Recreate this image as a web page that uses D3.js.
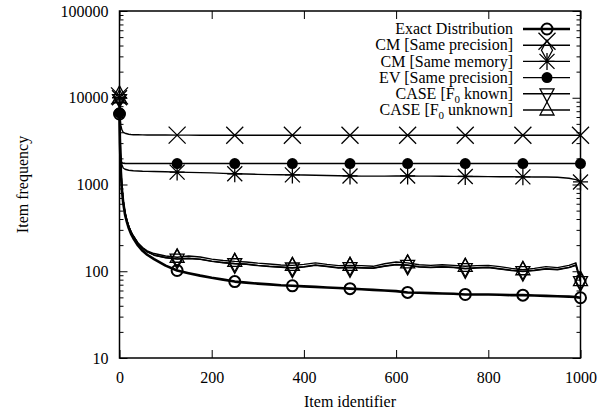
<!DOCTYPE html>
<html><head><meta charset="utf-8">
<script src="https://cdn.jsdelivr.net/npm/d3@7"></script>
<style>
body{margin:0;background:#fff}
svg{display:block}
text{font-family:"Liberation Serif","Times New Roman",serif;font-size:16px;fill:#000}
</style>
</head><body>
<svg id="chart" width="613" height="416"></svg>
<script>
// ---- data ----
const itemIds = [0,1,2,3,5,8,12,16,20,25,30,40,50,60,75,100,
  125,150,175,200,225,250,275,300,325,350,375,400,425,450,475,500,525,550,575,600,
  625,650,675,700,725,750,775,800,825,850,875,900,925,950,975,990,1000];
const exactFreq = [6500,3000,2000,1400,900,620,450,370,315,270,240,198,172,155,138,116,
  102,95,89,84,80,76,74,72,70.5,69,68,67,66,65,64,63,62,61,60,59,
  57,56.5,56,55.5,55,54,54,54,53.5,53,53,52.5,52,51.5,51,50.5,49.5];
const cmPrecisionFreq = [10500,3200,2100,1500,950,650,470,385,330,285,255,211,185,168,154,144,
  139,141,138,131,126,123,121,117,114,112,110,113,118,114,110,111,110,109,115,120,
  118,113,111,113,111,108,110,111,107,103,100,103,107,105,111,118,77];
const cmMemoryFreq = [10000,5000,3000,2200,1700,1550,1500,1480,1460,1450,1440,1430,1420,1415,1410,1400,
  1390,1380,1370,1360,1345,1330,1320,1310,1300,1295,1290,1285,1280,1270,1260,1255,1250,1248,1250,1255,
  1255,1250,1248,1245,1240,1238,1235,1233,1230,1228,1225,1222,1220,1210,1180,1140,1070];
const evPrecisionFreq = [6700,2600,2000,1850,1780,1760,1750,1748,1746,1745,1745,1745,1745,1745,1745,1745,
  1745,1745,1745,1745,1745,1745,1745,1745,1745,1745,1745,1745,1745,1745,1745,1745,1745,1745,1745,1745,
  1745,1745,1745,1745,1745,1745,1745,1745,1745,1745,1745,1745,1745,1745,1745,1745,1745];
const caseKnownFreq = [9500,3200,2100,1500,950,650,470,385,330,285,255,210,184,167,153,143,
  138,140,137,130,125,122,120,116,113,111,109,112,117,113,109,110,109,108,114,119,
  117,112,110,112,110,107,109,110,106,102,99,102,106,104,110,117,76];
const caseUnknownFreq = [10000,3200,2100,1500,950,650,470,385,330,285,255,212,188,172,160,150,
  145,150,146,138,133,130,128,124,121,118,117,120,125,120,116,117,116,114,122,128,
  125,119,117,119,117,114,116,117,113,108,104,108,113,110,117,125,78];
const cmWideFreq = [10500,7000,5500,4800,4300,4000,3900,3850,3800,3770,3750,3740,3730,3720,3720,3720,
  3710,3705,3700,3700,3700,3700,3700,3700,3700,3700,3700,3700,3700,3700,3700,3700,3700,3700,3700,3700,
  3700,3700,3700,3700,3700,3700,3700,3700,3700,3700,3700,3700,3700,3700,3700,3700,3700];
const xTicks = [0,200,400,600,800,1000];
const yTicks = [10,100,1000,10000,100000];
const legendLabels = ["Exact Distribution","CM [Same precision]","CM [Same memory]",
  "EV [Same precision]","CASE [F0 known]","CASE [F0 unknown]"];

// ---- series table ----
const series = [
  {values: exactFreq,       marker: "circle",  width: 2.6, key: 0, dy: 0},
  {values: cmWideFreq,      marker: "x",       width: 1.4, key: 1, dy: -4},
  {values: cmPrecisionFreq, marker: "diamond", width: 1.4, key: 1, dy: 5},
  {values: cmMemoryFreq,    marker: "star",    width: 1.4, key: 2, dy: 0},
  {values: evPrecisionFreq, marker: "dot",     width: 1.6, key: 3, dy: 0},
  {values: caseKnownFreq,   marker: "itri",    width: 1.4, key: 4, dy: 0},
  {values: caseUnknownFreq, marker: "tri",     width: 1.4, key: 5, dy: 0}
];

const m = {l: 119.5, r: 580.5, t: 11, b: 358};
const svg = d3.select("#chart");
const x = d3.scaleLinear().domain([0, 1000]).range([m.l, m.r]);
const y = d3.scaleLog().domain([10, 100000]).range([m.b, m.t]);

// minor log ticks
const minorY = [];
for (let d = 10; d < 100000; d *= 10) for (let k = 2; k <= 9; k++) minorY.push(d * k);

function styleAxis(g) {
  g.select(".domain").remove();
  g.selectAll("line").attr("stroke", "#000").attr("stroke-width", 1);
  g.selectAll("text").style("font-family", '"Liberation Serif",serif').style("font-size", "16px").attr("fill", "#000");
}
// left
svg.append("g").attr("transform", `translate(${m.l},0)`)
  .call(d3.axisLeft(y).tickValues(yTicks).tickFormat(d3.format("d")).tickSizeInner(-8).tickSizeOuter(0).tickPadding(11))
  .call(styleAxis);
svg.append("g").attr("transform", `translate(${m.l},0)`)
  .call(d3.axisLeft(y).tickValues(minorY).tickFormat("").tickSizeInner(-4).tickSizeOuter(0))
  .call(styleAxis);
// right (mirror)
svg.append("g").attr("transform", `translate(${m.r},0)`)
  .call(d3.axisRight(y).tickValues(yTicks).tickFormat("").tickSizeInner(-8).tickSizeOuter(0))
  .call(styleAxis);
svg.append("g").attr("transform", `translate(${m.r},0)`)
  .call(d3.axisRight(y).tickValues(minorY).tickFormat("").tickSizeInner(-4).tickSizeOuter(0))
  .call(styleAxis);
// bottom
svg.append("g").attr("transform", `translate(0,${m.b})`)
  .call(d3.axisBottom(x).tickValues(xTicks).tickFormat(d3.format("d")).tickSizeInner(-8).tickSizeOuter(0).tickPadding(14))
  .call(styleAxis);
// top (mirror)
svg.append("g").attr("transform", `translate(0,${m.t})`)
  .call(d3.axisTop(x).tickValues(xTicks).tickFormat("").tickSizeInner(-8).tickSizeOuter(0))
  .call(styleAxis);

// frame
svg.append("rect").attr("x", m.l).attr("y", m.t).attr("width", m.r - m.l).attr("height", m.b - m.t)
  .attr("fill", "none").attr("stroke", "#000").attr("stroke-width", 1.5);

// axis titles
svg.append("text").attr("x", (m.l + m.r) / 2).attr("y", 407).attr("text-anchor", "middle").text("Item identifier");
svg.append("text").attr("transform", `translate(22,${(m.t + m.b) / 2}) rotate(-90)`)
  .attr("text-anchor", "middle").attr("dy", "0.35em").text("Item frequency");

// markers
function drawMarker(g, type, cx, cy) {
  const s = "#000";
  if (type === "circle") {
    g.append("circle").attr("cx", cx).attr("cy", cy).attr("r", 5.5).attr("fill", "none").attr("stroke", s).attr("stroke-width", 2);
  } else if (type === "dot") {
    g.append("circle").attr("cx", cx).attr("cy", cy).attr("r", 5.5).attr("fill", s);
  } else if (type === "x") {
    const h = 8.5;
    g.append("path").attr("d", `M${cx-h},${cy-h}L${cx+h},${cy+h}M${cx-h},${cy+h}L${cx+h},${cy-h}`).attr("stroke", s).attr("stroke-width", 1.3);
  } else if (type === "star") {
    const h = 7.5;
    g.append("path").attr("d", `M${cx-h},${cy-h}L${cx+h},${cy+h}M${cx-h},${cy+h}L${cx+h},${cy-h}M${cx},${cy-h-1}L${cx},${cy+h+1}M${cx-h},${cy}L${cx+h},${cy}`).attr("stroke", s).attr("stroke-width", 1.3);
  } else if (type === "diamond") {
    g.append("path").attr("d", `M${cx},${cy-10}L${cx+5.5},${cy}L${cx},${cy+10}L${cx-5.5},${cy}Z`).attr("fill", "none").attr("stroke", s).attr("stroke-width", 1.3);
  } else if (type === "tri") {
    g.append("path").attr("d", `M${cx},${cy-8}L${cx+7},${cy+5}L${cx-7},${cy+5}Z`).attr("fill", "none").attr("stroke", s).attr("stroke-width", 1.3);
  } else if (type === "itri") {
    g.append("path").attr("d", `M${cx},${cy+8}L${cx+7},${cy-5}L${cx-7},${cy-5}Z`).attr("fill", "none").attr("stroke", s).attr("stroke-width", 1.3);
  }
}

const line = d3.line().x(d => x(d[0])).y(d => y(d[1]));
const plot = svg.append("g");
series.slice().reverse().forEach(sr => {
  const pts = itemIds.map((id, i) => [id, sr.values[i]]);
  plot.append("path").attr("d", line(pts)).attr("fill", "none").attr("stroke", "#000")
    .attr("stroke-width", sr.width).attr("stroke-linejoin", "round");
});
series.forEach(sr => {
  const g = plot.append("g");
  itemIds.forEach((id, i) => { if (id % 125 === 0) drawMarker(g, sr.marker, x(id), y(sr.values[i])); });
});

// legend
const legY0 = 29, legDy = 16.2, legTextX = 513, legL1 = 523, legL2 = 570, legMX = 547;
const leg = svg.append("g");
legendLabels.forEach((lab, i) => {
  const yy = legY0 + i * legDy;
  const t = leg.append("text").attr("x", legTextX).attr("y", yy).attr("dy", "0.33em").attr("text-anchor", "end");
  const parts = lab.split("F0");
  if (parts.length === 2) {
    t.append("tspan").text(parts[0] + "F");
    t.append("tspan").attr("dy", 4).style("font-size", "11px").text("0");
    t.append("tspan").attr("dy", -4).text(parts[1]);
  } else t.text(lab);
  leg.append("line").attr("x1", legL1).attr("x2", legL2).attr("y1", yy).attr("y2", yy)
    .attr("stroke", "#000").attr("stroke-width", i === 0 ? 2.6 : 1.4);
});
series.forEach(sr => drawMarker(leg, sr.marker, legMX, legY0 + sr.key * legDy + sr.dy));
</script>
</body></html>
